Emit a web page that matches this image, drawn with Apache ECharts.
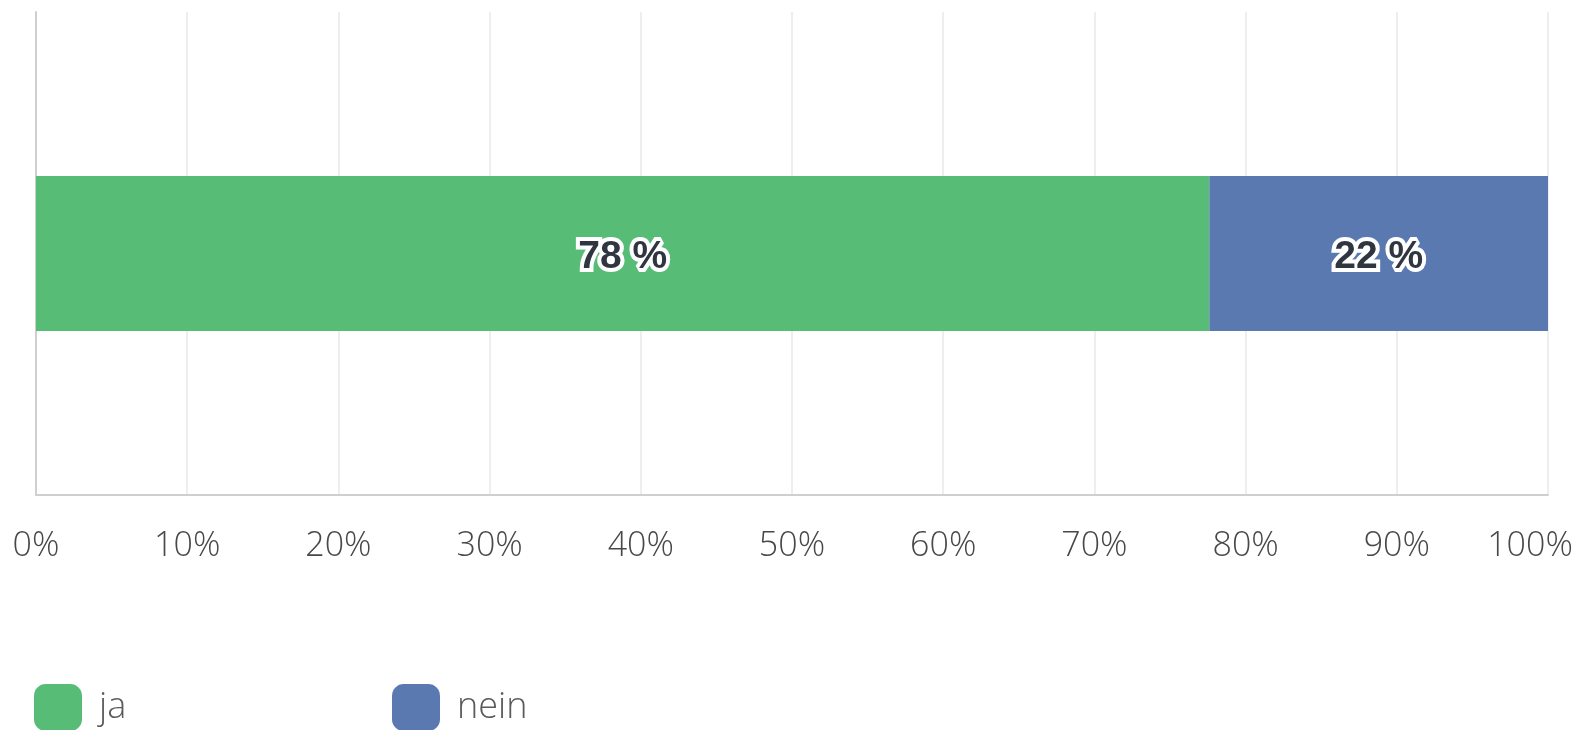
<!DOCTYPE html>
<html>
<head>
<meta charset="utf-8">
<script src="https://cdn.jsdelivr.net/npm/echarts@6/dist/echarts.min.js"></script>
<style>html,body{margin:0;padding:0;background:#fff;}#c{width:1587px;height:730px;}</style>
</head>
<body>
<div id="c"></div>
<script>
const categories = ['Antwort'];
const seriesNames = ['ja', 'nein'];
const jaValues = [77.6];
const neinValues = [22.4];
const colors = ['#57bd76', '#5a79b1'];

const chart = echarts.init(document.getElementById('c'));
const labelCfg = {
  show: true,
  position: 'inside',
  offset: [0, 4],
  formatter: p => Math.round(p.value) + ' %',
  fontFamily: 'Liberation Sans',
  fontWeight: 'bold',
  fontSize: 39,
  color: '#2f3640',
  textBorderColor: '#ffffff',
  textBorderWidth: 8
};
const tickFont = {fontFamily: 'Open Sans', fontWeight: 300, fontSize: 34, color: '#484848'};
const legendText = {fontFamily: 'Open Sans', fontWeight: 300, fontSize: 36, color: '#5a5a5a', padding: [0,0,0,12]};
chart.setOption({
  animation: false,
  grid: {left: 36, right: 39, top: 12, bottom: 235, containLabel: false, outerBoundsMode: 'none'},
  legend: [
    {data: [seriesNames[0]], left: 29, top: 679, itemWidth: 48, itemHeight: 47, icon: 'roundRect', textStyle: legendText},
    {data: [seriesNames[1]], left: 387, top: 679, itemWidth: 48, itemHeight: 47, icon: 'roundRect', textStyle: legendText}
  ],
  xAxis: {
    type: 'value', min: 0, max: 100, interval: 10,
    axisLabel: Object.assign({
      formatter: v => v === 100 ? '{m|' + v + '%}' : v + '%',
      margin: 34,
      rich: {m: Object.assign({padding: [0, 36, 0, 0]}, tickFont)}
    }, tickFont),
    axisLine: {show: true, lineStyle: {color: '#cfcfcf', width: 2}},
    axisTick: {show: false},
    splitLine: {show: true, lineStyle: {color: '#e8e8e8', width: 1.5}}
  },
  yAxis: {
    type: 'category', data: categories,
    axisLabel: {show: false}, axisTick: {show: false},
    axisLine: {show: true, lineStyle: {color: '#cfcfcf', width: 2}}
  },
  series: [
    {name: seriesNames[0], type: 'bar', stack: 'a', data: jaValues, barWidth: 155, itemStyle: {color: colors[0]}, label: labelCfg},
    {name: seriesNames[1], type: 'bar', stack: 'a', data: neinValues, barWidth: 155, itemStyle: {color: colors[1]}, label: labelCfg}
  ]
});
</script>
</body>
</html>
